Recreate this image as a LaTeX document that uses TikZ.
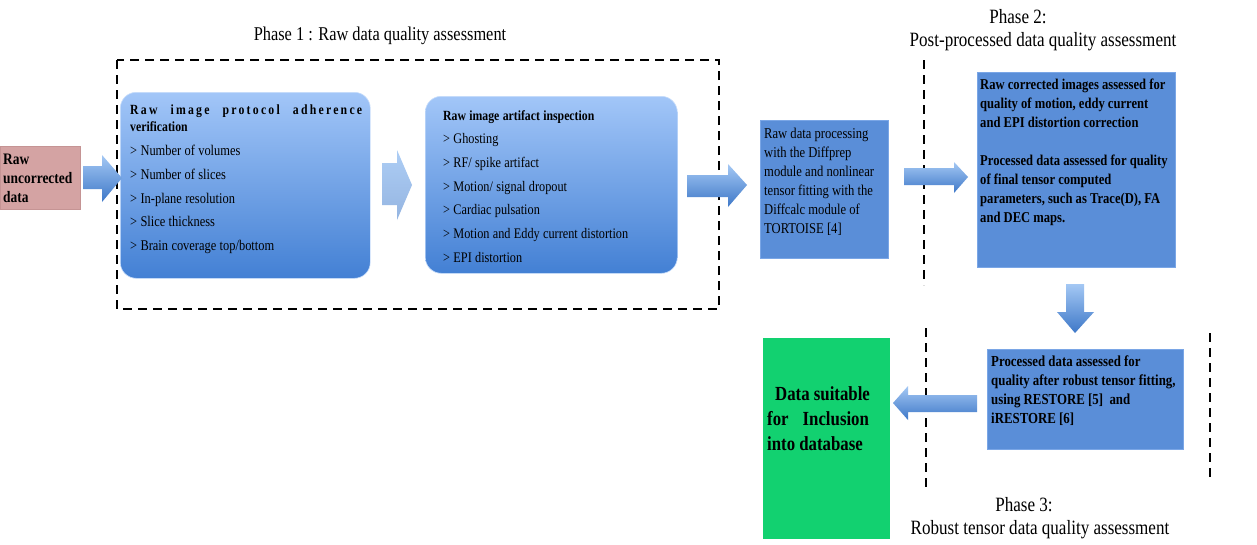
\documentclass[tikz,border=0pt]{standalone}
\usepackage{fontspec}
\setmainfont{Liberation Serif}[FakeStretch=0.84]
\usetikzlibrary{calc}
\definecolor{rawpink}{HTML}{D4A3A3}
\definecolor{rawpinkd}{HTML}{C59494}
\definecolor{gbtop}{HTML}{A2C6F8}
\definecolor{gbbot}{HTML}{4380D4}
\definecolor{flatblue}{HTML}{5A8ED8}
\definecolor{flatblued}{HTML}{7AA6E6}
\definecolor{okgreen}{HTML}{12D170}
\definecolor{artop}{HTML}{A4C8F4}
\definecolor{arbot}{HTML}{3E78C8}
\begin{document}
\begin{tikzpicture}[x=1pt,y=-1pt,
  gradbox/.style={rounded corners=16pt, top color=gbtop, bottom color=gbbot, draw=gbtop!60!white, line width=0.6pt, anchor=north west, inner sep=0pt},
  flatbox/.style={fill=flatblue, draw=flatblued, line width=0.8pt, anchor=north west, inner sep=0pt},
  txt/.style={anchor=north west, inner sep=0pt, align=left},
  phase/.style={inner sep=0pt, font=\fontsize{20.3}{25}\selectfont, align=center},
  dashline/.style={dashed, dash pattern=on 9pt off 6pt, line width=2.2pt, black},
  blockarrow/.style={top color=artop, bottom color=arbot, draw=none}
]
\path[use as bounding box, fill=white] (0,0) rectangle (1257,544);

% Raw input
\node[anchor=north west, fill=rawpink, draw=rawpinkd, line width=0.6pt, minimum width=80pt, minimum height=63pt, inner sep=0pt] (raw) at (0,146) {};
\node[txt, font=\fontsize{16}{19}\selectfont\bfseries] (rawt) at ($(raw.north west)+(3,8)$) {Raw\\uncorrected\\data};

% Phase 1 frame
\node[phase, font=\fontsize{19.5}{25}\selectfont] (ph1) at (380,36) {Phase 1 : Raw data quality assessment};
\draw[dashline] (117,60) rectangle (719,309);

% Box 1
\node[gradbox, minimum width=250pt, minimum height=186pt] (b1) at (120,92) {};
\node[txt, text width=233pt] (b1t) at ($(b1.north west)+(10,13)$) {%
\fontsize{14}{17}\selectfont\bfseries\makebox[232pt][l]{\addfontfeature{LetterSpace=16}Raw\hfill image\hfill protocol\hfill adherence}\\verification\par
\fontsize{14.8}{23.7}\selectfont\mdseries
> Number of volumes\par
> Number of slices\par
> In-plane resolution\par
> Slice thickness\par
> Brain coverage top/bottom\par};

% Box 2
\node[gradbox, minimum width=252pt, minimum height=177pt] (b2) at (425,96) {};
\node[txt, text width=230pt] (b2t) at ($(b2.north west)+(18,14)$) {%
\fontsize{14}{17}\selectfont\bfseries Raw image artifact inspection\par
\fontsize{14.6}{23.7}\selectfont\mdseries
> Ghosting\par
> RF/ spike artifact\par
> Motion/ signal dropout\par
> Cardiac pulsation\par
> Motion and Eddy current distortion\par
> EPI distortion\par};

% Box 3
\node[flatbox, minimum width=128pt, minimum height=138pt] (b3) at (760,120) {};
\node[txt, font=\fontsize{15}{19}\selectfont] (b3t) at ($(b3.north west)+(4,8)$) {Raw data processing\\with the Diffprep\\module and nonlinear\\tensor fitting with the\\Diffcalc module of\\TORTOISE [4]};

% Phase 2
\node[phase] (ph2a) at (1018,17) {Phase 2:};
\node[phase] (ph2b) at (1043,42) {Post-processed data quality assessment};
\draw[dashline] (924,60) -- (924,285);

% Box 4
\node[flatbox, minimum width=198pt, minimum height=195pt] (b4) at (977,72) {};
\node[txt, font=\fontsize{15}{19}\selectfont\bfseries] (b4t) at ($(b4.north west)+(3,7)$) {Raw corrected images assessed for\\quality of motion, eddy current\\and EPI distortion correction\\[19pt]Processed data assessed for quality\\of final tensor computed\\parameters, such as Trace(D), FA\\and DEC maps.};

% Box 5
\node[flatbox, minimum width=196pt, minimum height=100pt] (b5) at (987,349) {};
\node[txt, font=\fontsize{15.3}{19}\selectfont\bfseries] (b5t) at ($(b5.north west)+(4,7)$) {Processed data assessed for\\quality after robust tensor fitting,\\using RESTORE [5]\ \ and\\iRESTORE [6]};

% Green output
\node[anchor=north west, fill=okgreen, draw=none, minimum width=127pt, minimum height=201pt, inner sep=0pt] (out) at (763,338) {};
\node[txt, font=\fontsize{20}{25}\selectfont\bfseries] (outt) at ($(out.north west)+(4,48)$) {\hspace*{8pt}Data suitable\\for\hspace{14pt}Inclusion\\into database};

% Phase 3
\draw[dashline] (926,328) -- (926,487);
\draw[dashline] (1210,333) -- (1210,477);
\node[phase] (ph3a) at (1024,505) {Phase 3:};
\node[phase] (ph3b) at (1040,530) {Robust tensor data quality assessment};

% Block arrows
\shade[blockarrow] (83,166) -- (102,166) -- (102,155) -- (122,178) -- (102,202) -- (102,189) -- (83,189) -- cycle;
\shade[blockarrow, top color=artop!90!white, bottom color=arbot!55!white] (382,163) -- (397,163) -- (397,150) -- (412,185) -- (397,220) -- (397,205) -- (382,205) -- cycle;
\shade[blockarrow] (687,175) -- (728,175) -- (728,164) -- (747,185) -- (728,207) -- (728,197) -- (687,197) -- cycle;
\shade[blockarrow] (904,168) -- (954,168) -- (954,162) -- (968,177) -- (954,193) -- (954,185) -- (904,185) -- cycle;
\shade[blockarrow] (1066,284) -- (1084,284) -- (1084,312) -- (1094,312) -- (1075,333) -- (1057,312) -- (1066,312) -- cycle;
\shade[blockarrow] (977,395) -- (908,395) -- (908,386) -- (893,403) -- (908,420) -- (908,412) -- (977,412) -- cycle;
\end{tikzpicture}
\end{document}
